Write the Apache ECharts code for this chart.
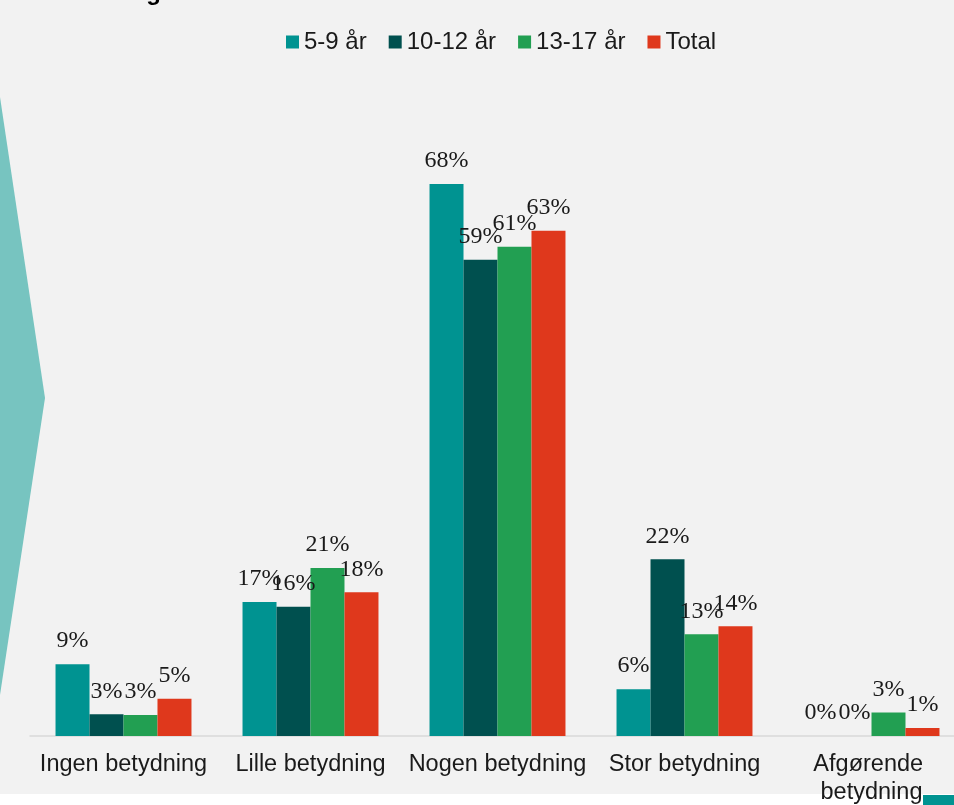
<!DOCTYPE html>
<html>
<head>
<meta charset="utf-8">
<script src="https://cdn.jsdelivr.net/npm/echarts@6/dist/echarts.min.js"></script>
<style>
html,body{margin:0;padding:0;background:#ffffff;}
#chart{width:954px;height:805px;}
</style>
</head>
<body>
<div id="chart"></div>
<script>
const categories = ['Ingen betydning', 'Lille betydning', 'Nogen betydning', 'Stor betydning', 'Afgørende betydning'];
const seriesNames = ['5-9 år', '10-12 år', '13-17 år', 'Total'];
const age5to9 = [8.9, 16.6, 68.4, 5.8, 0];
const age10to12 = [2.7, 16.0, 59.0, 21.9, 0];
const age13to17 = [2.6, 20.8, 60.6, 12.6, 2.9];
const total = [4.6, 17.8, 62.6, 13.6, 1.0];
const colors = ['#009391', '#00504f', '#229f52', '#df381c'];

const chart = echarts.init(document.getElementById('chart'));
const allData = [age5to9, age10to12, age13to17, total];

chart.setOption({
  animation: false,
  backgroundColor: 'transparent',
  graphic: [
    { type: 'rect', shape: { x: 0, y: 0, width: 954, height: 794 }, style: { fill: '#f2f2f2' }, z: -10 },
    { type: 'rect', shape: { x: 923, y: 795, width: 31, height: 10 }, style: { fill: '#009391' }, z: -9 },
    { type: 'polygon', shape: { points: [[0, 97], [45, 398], [0, 695]] }, style: { fill: '#77c4c0' }, z: -9 },
    { type: 'text', style: { text: 'Vurdering', x: 161, y: 5, align: 'right', verticalAlign: 'bottom', font: 'bold 24px "Liberation Sans", Arial, sans-serif', fill: '#000' }, z: -8 }
  ],
  legend: {
    top: 25,
    left: 281,
    itemWidth: 13,
    itemHeight: 13,
    itemGap: 22,
    icon: 'rect',
    textStyle: { fontFamily: '"Liberation Sans", Arial, sans-serif', fontSize: 24, color: '#1a1a1a' },
    data: seriesNames
  },
  grid: { left: 30, width: 935, top: 171, bottom: 69, containLabel: false, outerBoundsMode: 'none' },
  xAxis: {
    type: 'category',
    data: categories,
    axisLine: { lineStyle: { color: '#d9d9d9', width: 1.5 } },
    axisTick: { show: false },
    axisLabel: {
      fontFamily: '"Liberation Sans", Arial, sans-serif',
      fontSize: 23.5,
      color: '#1a1a1a',
      margin: 15,
      width: 185,
      overflow: 'break',
      lineHeight: 28,
      interval: 0
    }
  },
  yAxis: {
    type: 'value',
    min: 0,
    max: 70,
    show: false,
    splitLine: { show: false }
  },
  series: seriesNames.map((name, i) => ({
    name: name,
    type: 'bar',
    data: allData[i],
    barGap: '0%',
    barCategoryGap: '27.3%',
    itemStyle: { color: colors[i] },
    label: {
      show: true,
      position: 'top',
      distance: 11,
      fontFamily: '"Liberation Serif", "Times New Roman", serif',
      fontSize: 24,
      color: '#1a1a1a',
      formatter: p => Math.round(p.value) + '%'
    }
  }))
});
</script>
</body>
</html>
